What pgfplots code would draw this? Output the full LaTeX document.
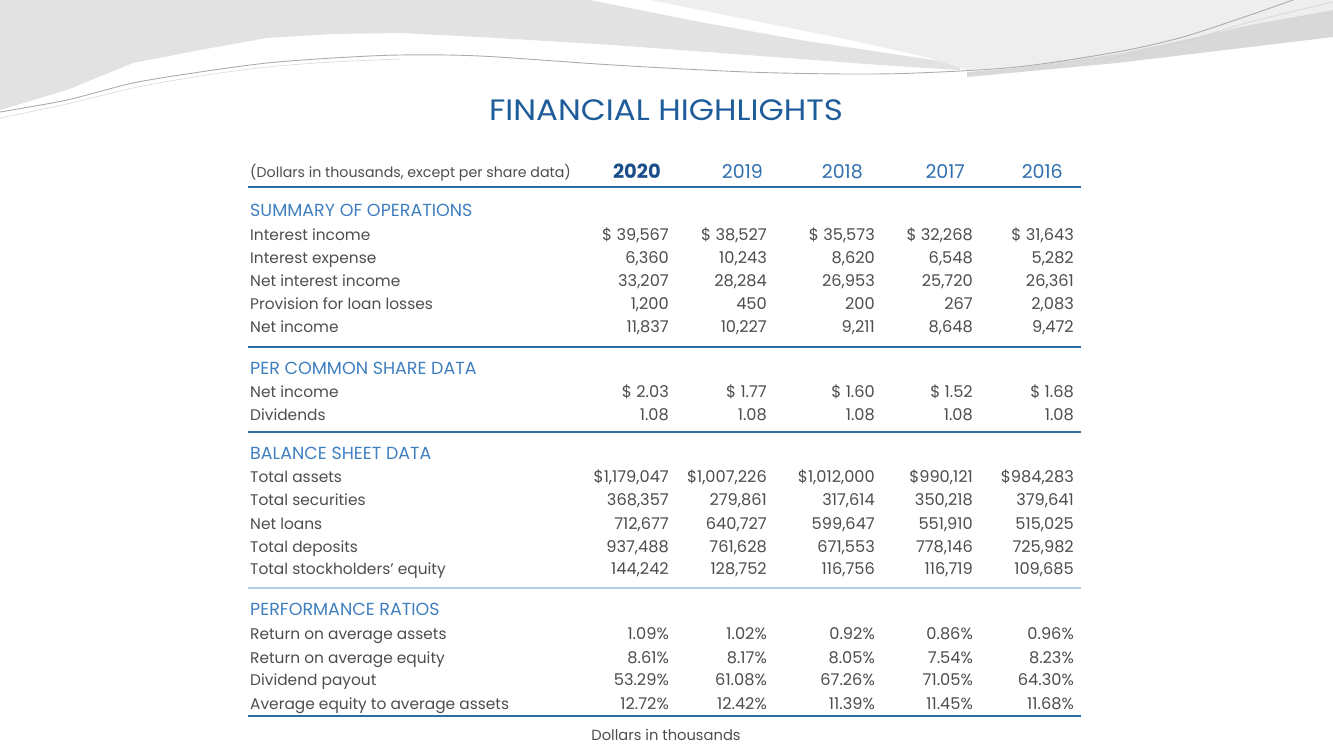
\documentclass[border=0pt]{standalone}
\usepackage{fontspec}
\setmainfont{Poppins}[Numbers=Proportional]
\usepackage{graphicx}
\usepackage{pgfplots}
\pgfplotsset{compat=1.18}
\definecolor{txt}{HTML}{4D4D4D}
\definecolor{sec}{HTML}{3F7FBF}
\definecolor{yr}{HTML}{2F6FAF}
\definecolor{yrb}{HTML}{1B4F8A}
\definecolor{ttl}{HTML}{1F5C9A}
\definecolor{rule}{HTML}{2E6CA5}
\definecolor{rulelt}{HTML}{B3CDE6}
\definecolor{bgA}{HTML}{E2E2E2}
\definecolor{bgB}{HTML}{EEEEEE}
\definecolor{bgC}{HTML}{D8D8D8}
\newcommand\bodyfont{\fontsize{15.4}{18}\selectfont}
\newcommand\numfont{\fontsize{16.2}{19}\selectfont}
\pgfplotsset{
  txtcol/.style={draw=none, mark=none, nodes near coords, point meta=explicit symbolic,
    every node near coord/.append style={anchor=mid east, inner sep=0pt, yshift=-3.7pt, font=\numfont, text=txt}},
  lblcol/.style={draw=none, mark=none, nodes near coords, point meta=explicit symbolic,
    every node near coord/.append style={anchor=mid west, inner sep=0pt, yshift=-3.5pt, font=\bodyfont, text=txt}},
  seccol/.style={draw=none, mark=none, nodes near coords, point meta=explicit symbolic,
    every node near coord/.append style={anchor=mid west, inner sep=0pt, yshift=-4pt, font=\fontsize{17.5}{20}\selectfont, text=sec}},
}
\begin{document}
\begin{tikzpicture}
\begin{axis}[
  width=1333pt, height=750pt, scale only axis,
  xmin=0, xmax=1333, ymin=0, ymax=750, y dir=reverse,
  axis lines=none, clip=false,
]
% decorative background
\addplot[fill=bgA, draw=none] coordinates {(0,0) (590,0) (700,22) (800,40) (900,55) (960,64) (960,70) (880,65) (747,55) (613,45) (480,37) (400,33) (333,34) (267,38) (200,50) (133,63) (67,90) (0,110)} -- cycle;
\addplot[fill=bgB, draw=none] coordinates {(650,0) (1333,0) (1333,10) (1250,25) (1183,40) (1117,54) (1017,68) (967,70) (930,58) (850,40) (750,20)} -- cycle;
\addplot[fill=bgC, draw=none] coordinates {(1333,10) (1250,25) (1183,40) (1117,54) (1017,68) (967,72) (967,77) (1117,63) (1250,47) (1333,37)} -- cycle;
\addplot[gray!65, line width=0.9pt, smooth] coordinates {(0,112) (67,100) (133,83) (200,72) (267,63) (333,58) (400,55) (480,56) (613,65) (747,72) (847,74) (917,73) (1017,67) (1117,52) (1183,37) (1250,15) (1293,0)};
\addplot[gray!30, line width=0.6pt, smooth] coordinates {(0,118) (67,104) (133,88) (200,76) (267,67) (333,62) (400,59)};
\addplot[gray!35, line width=0.6pt, smooth] coordinates {(1117,57) (1183,42) (1250,22) (1333,2)};

% title
\node[text=ttl, inner sep=0pt] at (axis cs:666,110) {\scalebox{1.1}[1]{\fontsize{29.5}{32}\selectfont FINANCIAL HIGHLIGHTS}};

% header
\node[anchor=mid west, inner sep=0pt, yshift=-3.5pt, text=txt] at (axis cs:250,171) {\fontsize{14.2}{16}\selectfont (Dollars in thousands, except per share data)};
\addplot[draw=none, mark=none, nodes near coords, point meta=explicit symbolic,
  every node near coord/.append style={anchor=mid east, inner sep=0pt, yshift=-4.5pt, font=\fontsize{19.5}{22}\selectfont\bfseries, text=yrb}]
  coordinates {(661,171) [2020]};
\addplot[draw=none, mark=none, nodes near coords, point meta=explicit symbolic,
  every node near coord/.append style={anchor=mid east, inner sep=0pt, yshift=-4.5pt, font=\fontsize{19}{22}\selectfont, text=yr}]
  coordinates {(763,171) [2019] (863,171) [2018] (965,171) [2017] (1063,171) [2016]};

% rules
\addplot[rule, line width=2.6pt] coordinates {(248,187) (1081,187)};
\addplot[rule, line width=1.8pt] coordinates {(248,347) (1081,347)};
\addplot[rule, line width=1.8pt] coordinates {(248,432) (1081,432)};
\addplot[rulelt, line width=1.8pt] coordinates {(248,588) (1081,588)};
\addplot[rule, line width=1.8pt] coordinates {(248,716) (1081,716)};

% section headers
\addplot[seccol] coordinates {(250,210) [SUMMARY OF OPERATIONS] (250,368) [PER COMMON SHARE DATA] (250,453) [BALANCE SHEET DATA] (250,609) [PERFORMANCE RATIOS]};

% row labels
\addplot[lblcol] coordinates {
 (250,234) [Interest income] (250,257) [Interest expense] (250,280) [Net interest income]
 (250,303) [Provision for loan losses] (250,326) [Net income]
 (250,391) [Net income] (250,414) [Dividends]
 (250,476) [Total assets] (250,499) [Total securities] (250,523) [Net loans]
 (250,546) [Total deposits] (250,568) [Total stockholders’ equity]
 (250,633) [Return on average assets] (250,657) [Return on average equity]
 (250,679) [Dividend payout] (250,703) [Average equity to average assets]};

% 2020
\addplot[txtcol] coordinates {
 (669,234) [\$ 39,567] (669,257) [6,360] (669,280) [33,207] (669,303) [1,200] (669,326) [11,837]
 (669,391) [\$ 2.03] (669,414) [1.08]
 (669,476) [\$1,179,047] (669,499) [368,357] (669,523) [712,677] (669,546) [937,488] (669,568) [144,242]
 (669,633) [1.09\%] (669,657) [8.61\%] (669,679) [53.29\%] (669,703) [12.72\%]};
% 2019
\addplot[txtcol] coordinates {
 (767,234) [\$ 38,527] (767,257) [10,243] (767,280) [28,284] (767,303) [450] (767,326) [10,227]
 (767,391) [\$ 1.77] (767,414) [1.08]
 (767,476) [\$1,007,226] (767,499) [279,861] (767,523) [640,727] (767,546) [761,628] (767,568) [128,752]
 (767,633) [1.02\%] (767,657) [8.17\%] (767,679) [61.08\%] (767,703) [12.42\%]};
% 2018
\addplot[txtcol] coordinates {
 (875,234) [\$ 35,573] (875,257) [8,620] (875,280) [26,953] (875,303) [200] (875,326) [9,211]
 (875,391) [\$ 1.60] (875,414) [1.08]
 (875,476) [\$1,012,000] (875,499) [317,614] (875,523) [599,647] (875,546) [671,553] (875,568) [116,756]
 (875,633) [0.92\%] (875,657) [8.05\%] (875,679) [67.26\%] (875,703) [11.39\%]};
% 2017
\addplot[txtcol] coordinates {
 (973,234) [\$ 32,268] (973,257) [6,548] (973,280) [25,720] (973,303) [267] (973,326) [8,648]
 (973,391) [\$ 1.52] (973,414) [1.08]
 (973,476) [\$990,121] (973,499) [350,218] (973,523) [551,910] (973,546) [778,146] (973,568) [116,719]
 (973,633) [0.86\%] (973,657) [7.54\%] (973,679) [71.05\%] (973,703) [11.45\%]};
% 2016
\addplot[txtcol] coordinates {
 (1074,234) [\$ 31,643] (1074,257) [5,282] (1074,280) [26,361] (1074,303) [2,083] (1074,326) [9,472]
 (1074,391) [\$ 1.68] (1074,414) [1.08]
 (1074,476) [\$984,283] (1074,499) [379,641] (1074,523) [515,025] (1074,546) [725,982] (1074,568) [109,685]
 (1074,633) [0.96\%] (1074,657) [8.23\%] (1074,679) [64.30\%] (1074,703) [11.68\%]};

\node[inner sep=0pt, anchor=mid, yshift=-3.5pt, text=txt] at (axis cs:666,734) {\fontsize{14.7}{17}\selectfont Dollars in thousands};
\end{axis}
\pgfresetboundingbox
\path[use as bounding box] (current axis.south west) rectangle (current axis.north east);
\end{tikzpicture}
\end{document}
